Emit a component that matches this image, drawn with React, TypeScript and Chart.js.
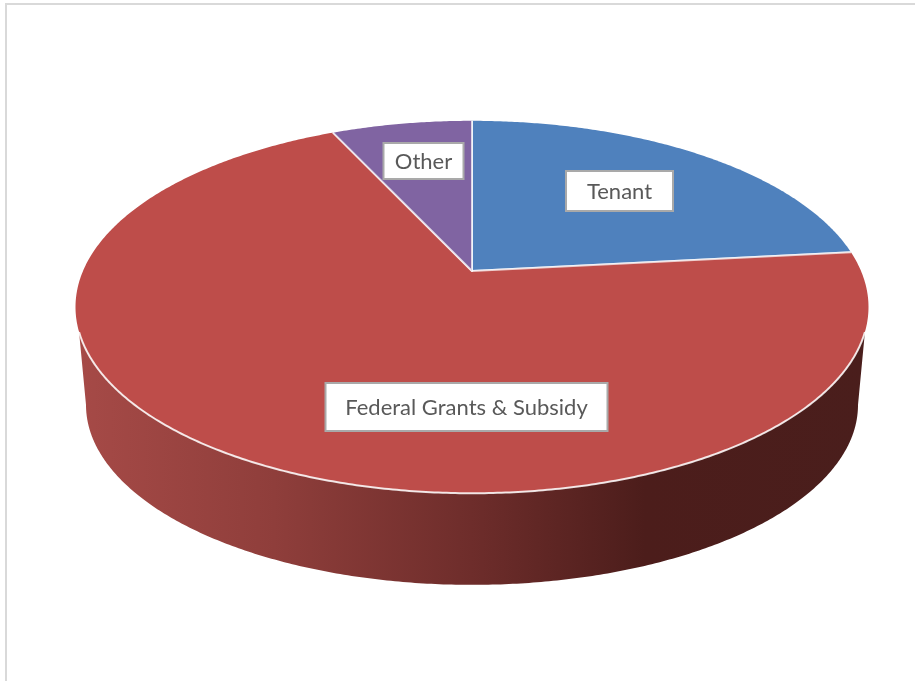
import { useEffect, useRef } from "react";
import { ArcElement, Chart, PieController } from "chart.js";

// Funding sources, clockwise from twelve o'clock
const categories = ["Tenant", "Federal Grants & Subsidy", "Other"];
const shares = [23.3, 69.8, 6.9];
const sliceColors = ["#4F81BD", "#BE4D4A", "#8064A2"];

// Label box centres and sizes, in canvas pixels
const labelBoxes = [
  { cx: 619.5, cy: 191, w: 107, h: 40 },
  { cx: 466.5, cy: 407, w: 282, h: 48 },
  { cx: 423.5, cy: 161, w: 80, h: 36 },
];

// Perspective projection of a unit disc onto the canvas:
// x = cx + a*u / (1 + k*v), y = (b*v + d) / (1 + k*v)
const CX = 472;
const K = -0.1935;
const TOP = { a: 389, b: 126.8, d: 271 };
const BOTTOM = { a: 378.7, b: 101.6, d: 370.1 };
type Plane = typeof TOP;

const project = (p: Plane, u: number, v: number): [number, number] => {
  const w = 1 + K * v;
  return [CX + (p.a * u) / w, (p.b * v + p.d) / w];
};
const rimPoint = (p: Plane, angle: number) => project(p, Math.cos(angle), Math.sin(angle));

const WALL_TOP_START = (18.6 * Math.PI) / 180;
const WALL_TOP_END = (161.4 * Math.PI) / 180;
const WALL_BOTTOM_START = (11.16 * Math.PI) / 180;
const WALL_BOTTOM_END = (168.84 * Math.PI) / 180;
const STEP = Math.PI / 360;

function traceRim(ctx: CanvasRenderingContext2D, p: Plane, from: number, to: number) {
  const n = Math.max(2, Math.ceil(Math.abs(to - from) / STEP));
  for (let i = 0; i <= n; i++) {
    const [x, y] = rimPoint(p, from + ((to - from) * i) / n);
    ctx.lineTo(x, y);
  }
}

// Front wall of the disc, shaded from left to right
function drawWall(ctx: CanvasRenderingContext2D) {
  const shade = ctx.createLinearGradient(77, 0, 866, 0);
  shade.addColorStop(0, "#A64A47");
  shade.addColorStop(0.25, "#8F3E3B");
  shade.addColorStop(0.5, "#6E2D2B");
  shade.addColorStop(0.72, "#4C1D1B");
  shade.addColorStop(1, "#4A1E1C");
  ctx.beginPath();
  traceRim(ctx, TOP, WALL_TOP_START, WALL_TOP_END);
  traceRim(ctx, BOTTOM, WALL_BOTTOM_END, WALL_BOTTOM_START);
  ctx.closePath();
  ctx.fillStyle = shade;
  ctx.fill();
}

// Arc element that traces its slice through the projection
class PerspectiveArc extends ArcElement {
  static id = "perspectiveArc";

  draw(ctx: CanvasRenderingContext2D) {
    const { startAngle, endAngle } = this as any;
    const { backgroundColor, borderColor, borderWidth } = (this as any).options;
    const front = Math.PI / 2;
    const hasWall = startAngle < front && endAngle > front;
    const [ax, ay] = project(TOP, 0, 0);
    ctx.save();
    if (hasWall) drawWall(ctx);

    ctx.beginPath();
    ctx.moveTo(ax, ay);
    traceRim(ctx, TOP, startAngle, endAngle);
    ctx.closePath();
    ctx.fillStyle = backgroundColor;
    ctx.fill();

    // Only the two straight edges carry the slice border
    const [sx, sy] = rimPoint(TOP, startAngle);
    const [ex, ey] = rimPoint(TOP, endAngle);
    ctx.beginPath();
    ctx.moveTo(sx, sy);
    ctx.lineTo(ax, ay);
    ctx.lineTo(ex, ey);
    ctx.lineJoin = "round";
    ctx.lineWidth = borderWidth;
    ctx.strokeStyle = borderColor;
    ctx.stroke();

    // Highlight where the top face meets the wall
    if (hasWall) {
      ctx.beginPath();
      traceRim(ctx, TOP, WALL_TOP_START, WALL_TOP_END);
      ctx.lineWidth = 2;
      ctx.strokeStyle = "rgba(255,255,255,0.85)";
      ctx.stroke();
    }
    ctx.restore();
  }
}

class PerspectivePieController extends PieController {
  static id = "perspectivePie";
  static defaults = { dataElementType: "perspectiveArc" };
}

Chart.register(PerspectiveArc, PerspectivePieController);

const framePlugin = {
  id: "frame",
  beforeDraw(chart: Chart) {
    const { ctx, width, height } = chart;
    ctx.save();
    ctx.fillStyle = "#FFFFFF";
    ctx.fillRect(0, 0, width, height);
    ctx.fillStyle = "#D9D9D9";
    ctx.fillRect(5, 3, width - 5, 2);
    ctx.fillRect(5, 3, 2, height - 3);
    ctx.restore();
  },
};

const labelPlugin = {
  id: "sliceLabels",
  afterDraw(chart: Chart) {
    const { ctx } = chart;
    const labels = chart.data.labels as string[];
    ctx.save();
    ctx.font = '22px "Lato"';
    ctx.textAlign = "center";
    ctx.textBaseline = "middle";
    labels.forEach((label, i) => {
      const { cx, cy, w, h } = labelBoxes[i];
      const x = cx - w / 2;
      const y = cy - h / 2;
      ctx.fillStyle = "#FFFFFF";
      ctx.fillRect(x, y, w, h);
      ctx.strokeStyle = "#A9A9A9";
      ctx.lineWidth = 2;
      ctx.strokeRect(x, y, w, h);
      ctx.fillStyle = "#595959";
      ctx.fillText(label, cx, cy + 1);
    });
    ctx.restore();
  },
};

export default function App() {
  const ref = useRef<HTMLCanvasElement>(null);

  useEffect(() => {
    document.body.style.margin = "0";
    const chart = new Chart(ref.current!, {
      type: "perspectivePie" as any,
      data: {
        labels: categories,
        datasets: [
          {
            data: shares,
            backgroundColor: sliceColors,
            borderColor: "rgba(255,255,255,0.72)",
            borderWidth: 2,
          },
        ],
      },
      options: {
        responsive: false,
        animation: false,
        events: [],
      },
      plugins: [framePlugin, labelPlugin],
    });
    return () => chart.destroy();
  }, []);

  return <canvas ref={ref} width={915} height={681} style={{ display: "block" }} />;
}
